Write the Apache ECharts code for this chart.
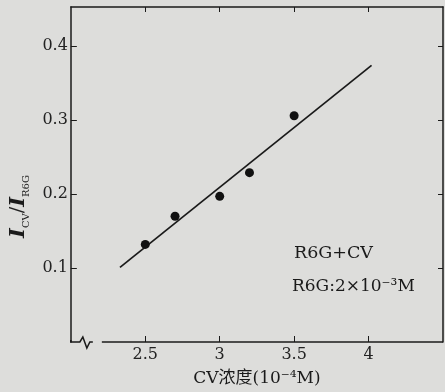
<!DOCTYPE html>
<html>
<head>
<meta charset="utf-8">
<script src="https://cdn.jsdelivr.net/npm/echarts@6/dist/echarts.min.js"></script>
<style>
  html, body { margin: 0; padding: 0; background: #dddddb; }
  #main { width: 445px; height: 392px; }
</style>
</head>
<body>
<div id="main"></div>
<script>
// 测量点
var cvConc = [2.5, 2.7, 3.0, 3.2, 3.5];
var ratio = [0.132, 0.170, 0.197, 0.229, 0.306];
// 拟合直线两端
var fitX = [2.33, 4.02];
var fitY = [0.101, 0.374];
// 刻度
var xTicks = [2.5, 3, 3.5, 4];
var yTicks = [0.1, 0.2, 0.3, 0.4];

var serif = '"DejaVu Serif", "Liberation Serif", "Noto Sans CJK SC", serif';
var ink = '#1a1a1a';

var pts = cvConc.map(function (x, i) { return [x, ratio[i]]; });
var fit = fitX.map(function (x, i) { return [x, fitY[i]]; });

var dom = document.getElementById('main');
var myChart = echarts.init(dom);

var option = {
    backgroundColor: '#dddddb',
    animation: false,
    grid: { left: 68, right: 2, top: 7, bottom: 45 },
    xAxis: [{
        type: 'value',
        min: 2, max: 4.5,
        position: 'bottom',
        name: 'CV浓度(10⁻⁴M)',
        nameLocation: 'middle',
        nameGap: 28,
        nameTextStyle: { fontFamily: serif, fontSize: 17, color: ink },
        axisLine: { show: false },
        axisTick: { show: true, inside: true, length: 6, customValues: xTicks, lineStyle: { color: ink } },
        axisLabel: { customValues: xTicks, margin: 5, fontFamily: serif, fontSize: 16, color: '#222' },
        splitLine: { show: false }
    }, {
        type: 'value',
        min: 2, max: 4.5,
        position: 'top',
        axisLine: { show: true, onZero: false, lineStyle: { color: ink, width: 1.5 } },
        axisTick: { show: true, inside: true, length: 5, customValues: xTicks, lineStyle: { color: ink } },
        axisLabel: { show: false },
        splitLine: { show: false }
    }],
    yAxis: [{
        type: 'value',
        min: 0, max: 0.453,
        position: 'left',
        name: '{i|I}{s|CV}{n|/}{i|I}{s|R6G}',
        nameLocation: 'middle',
        nameRotate: 90,
        nameGap: 36,
        nameTextStyle: {
            padding: [0, 64, 0, 0],
            rich: {
                i: { fontFamily: serif, fontStyle: 'italic', fontWeight: 'bold', fontSize: 21, color: ink, lineHeight: 26 },
                n: { fontFamily: serif, fontSize: 19, color: '#222', lineHeight: 26 },
                s: { fontFamily: serif, fontSize: 10, color: '#222', lineHeight: 10, verticalAlign: 'bottom' }
            }
        },
        axisLine: { show: true, onZero: false, lineStyle: { color: ink, width: 1.5 } },
        axisTick: { show: true, inside: true, length: 6, customValues: yTicks, lineStyle: { color: ink } },
        axisLabel: { customValues: yTicks, margin: 3, fontFamily: serif, fontSize: 16, color: '#222' },
        splitLine: { show: false }
    }, {
        type: 'value',
        min: 0, max: 0.453,
        position: 'right',
        axisLine: { show: true, onZero: false, lineStyle: { color: ink, width: 1.5 } },
        axisTick: { show: true, inside: true, length: 5, customValues: yTicks, lineStyle: { color: ink } },
        axisLabel: { show: false },
        splitLine: { show: false }
    }],
    series: [{
        type: 'line',
        data: fit,
        symbol: 'none',
        lineStyle: { color: ink, width: 1.7 },
        z: 2
    }, {
        type: 'scatter',
        data: pts,
        symbol: 'circle',
        symbolSize: 9,
        itemStyle: { color: '#111', opacity: 1 },
        z: 3
    }]
};

myChart.setOption(option);

// 底部坐标轴（带折断符号）
var o = myChart.convertToPixel({ gridIndex: 0 }, [2, 0]);
var r = myChart.convertToPixel({ gridIndex: 0 }, [4.5, 0]);
var bx = o[0], by = o[1];
myChart.setOption({
    graphic: [{
        type: 'polyline',
        shape: { points: [[bx, by - 2], [bx, by], [bx + 9, by], [bx + 12, by - 5], [bx + 16, by + 6], [bx + 19, by], [bx + 22, by]] },
        style: { stroke: ink, lineWidth: 1.5, fill: null }
    }, {
        type: 'line',
        shape: { x1: bx + 31, y1: by, x2: r[0], y2: by },
        style: { stroke: ink, lineWidth: 1.5 }
    }, {
        type: 'text',
        left: 294, top: 245,
        style: { text: 'R6G+CV', font: '17.5px ' + serif, fill: ink }
    }, {
        type: 'text',
        left: 292, top: 278,
        style: { text: 'R6G:2×10⁻³M', font: '17px ' + serif, fill: ink }
    }]
});
</script>
</body>
</html>
